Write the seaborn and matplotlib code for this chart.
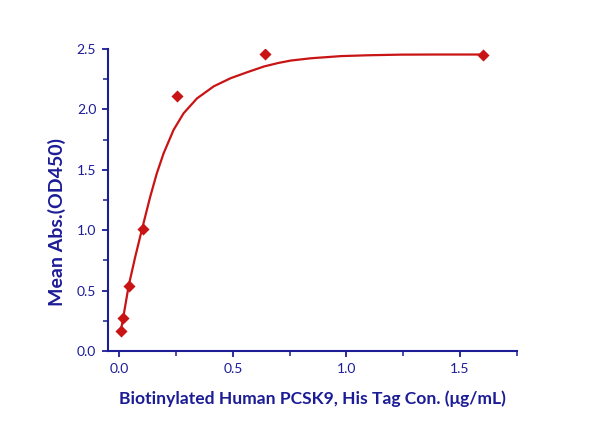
import matplotlib

matplotlib.use("Agg")
import matplotlib.pyplot as plt
import pandas as pd
import seaborn as sns
from matplotlib.ticker import MultipleLocator

# measured points (concentration in ug/mL, mean OD450)
conc = [0.0066, 0.0164, 0.041, 0.1024, 0.256, 0.64, 1.6]
od450 = [0.17, 0.27, 0.54, 1.01, 2.11, 2.455, 2.453]

# fitted curve
curve_x = [0.0066, 0.0164, 0.041, 0.07, 0.1, 0.136, 0.165, 0.195, 0.239, 0.283,
           0.342, 0.416, 0.49, 0.564, 0.637, 0.7, 0.755, 0.844, 0.977, 1.1, 1.24,
           1.4, 1.6]
curve_y = [0.17, 0.27, 0.54, 0.78, 1.01, 1.277, 1.47, 1.636, 1.83, 1.967,
           2.09, 2.19, 2.257, 2.307, 2.354, 2.383, 2.403, 2.422, 2.44, 2.447,
           2.452, 2.453, 2.453]

navy = "#1c1c96"
red = "#c81414"

sns.set_style("ticks")
plt.rcParams["font.family"] = ["Lato", "DejaVu Sans"]

points = pd.DataFrame({"conc": conc, "od": od450})
curve = pd.DataFrame({"conc": curve_x, "od": curve_y})

fig = plt.figure(figsize=(6.0, 4.21), dpi=100)
ax = fig.add_axes([0.18, 0.166, 0.681, 0.718])

sns.lineplot(data=curve, x="conc", y="od", color=red, linewidth=1.6, ax=ax)
sns.scatterplot(data=points, x="conc", y="od", marker="D", s=38, color=red,
                edgecolor=red, linewidth=0, ax=ax, zorder=3)

ax.set_xlim(-0.05, 1.75)
ax.set_ylim(0, 2.5)
ax.xaxis.set_major_locator(MultipleLocator(0.5))
ax.xaxis.set_minor_locator(MultipleLocator(0.25))
ax.yaxis.set_major_locator(MultipleLocator(0.5))
ax.yaxis.set_minor_locator(MultipleLocator(0.25))
ax.xaxis.set_major_formatter(plt.FormatStrFormatter("%.1f"))
ax.yaxis.set_major_formatter(plt.FormatStrFormatter("%.1f"))

for side in ["top", "right"]:
    ax.spines[side].set_visible(False)
for side in ["left", "bottom"]:
    ax.spines[side].set_color(navy)
    ax.spines[side].set_linewidth(1.5)

ax.tick_params(which="major", direction="out", length=4.5, width=1.3,
               color=navy, labelcolor=navy, labelsize=10, pad=4)
ax.tick_params(which="minor", direction="out", length=3.5, width=1.1, color=navy)

ax.set_xlabel("Biotinylated Human PCSK9, His Tag Con. (\u03bcg/mL)",
              fontsize=12.6, fontweight="bold", color=navy, labelpad=11)
ax.set_ylabel("Mean Abs.(OD450)", fontsize=14, fontweight="bold", color=navy)
ax.yaxis.set_label_coords(-0.103, 0.427)

fig.savefig("out.png", dpi=100)
plt.close(fig)
